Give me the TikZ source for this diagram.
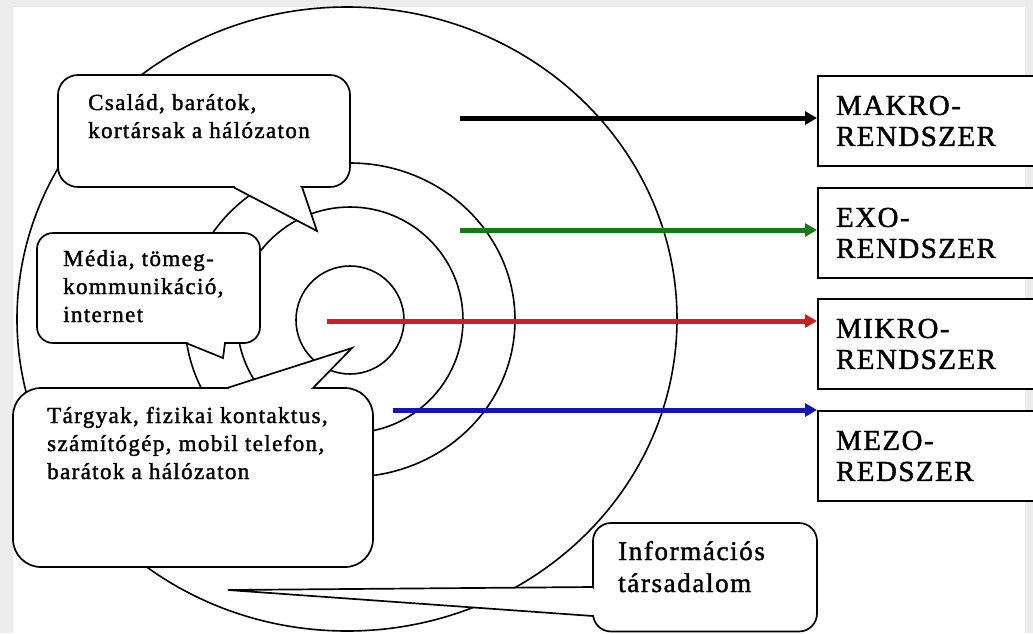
\documentclass[tikz,border=0pt]{standalone}
\usepackage{fontspec}
\setmainfont{Liberation Serif}
\newfontfamily\callfont[LetterSpace=6,FakeBold=1.5]{Liberation Serif}
\newfontfamily\sysfont[LetterSpace=5,FakeBold=1.5]{Liberation Serif}
\usetikzlibrary{arrows.meta}
\definecolor{agreen}{RGB}{25,120,25}
\definecolor{ared}{RGB}{205,30,35}
\definecolor{ablue}{RGB}{20,20,185}
\definecolor{bggray}{RGB}{236,236,236}
\begin{document}
\begin{tikzpicture}[x=1pt,y=-1pt,
  ring/.style={line width=1.6pt},
  callout/.style={draw, line width=1.7pt, fill=white},
  ptr/.style={line width=1.7pt, line join=miter},
  calltext/.style={anchor=base west, inner sep=0pt, align=left,
    font=\callfont\fontsize{23}{28}\selectfont},
  infotext/.style={anchor=base west, inner sep=0pt, align=left,
    font=\callfont\fontsize{27}{32}\selectfont},
  sysbox/.style={draw, line width=2pt, fill=white, anchor=north west,
    minimum height=90pt, text width=195pt, inner xsep=18pt, align=left,
    font=\sysfont\fontsize{29}{31}\selectfont},
  conn/.style={line width=5pt, -{Triangle[length=12pt,width=13pt]}}]

\useasboundingbox (0,0) rectangle (1033,633);
\fill[bggray] (0,0) rectangle (1033,633);
\fill[white] (13,7) rectangle (1025,633);

% rings
\draw[ring] (347,319) ellipse [x radius=330pt, y radius=312pt];
\draw[ring] (350,320) ellipse [x radius=165pt, y radius=157pt];
\draw[ring] (350,320) circle [radius=113pt];
\draw[ring] (350,320) circle [radius=54pt];

% system boxes
\node[sysbox] (makro) at (817,75)  {MAKRO-\\RENDSZER};
\node[sysbox] (exo)   at (817,187) {EXO-\\RENDSZER};
\node[sysbox] (mikro) at (817,298) {MIKRO-\\RENDSZER};
\node[sysbox] (mezo)  at (817,410) {MEZO-\\REDSZER};

% arrows
\coordinate (s1) at (460,118);
\coordinate (s2) at (460,230);
\coordinate (s3) at (327,321);
\coordinate (s4) at (393,410);
\draw[conn] (s1) -- (s1 -| makro.west);
\draw[conn, agreen] (s2) -- (s2 -| exo.west);
\draw[conn, ared] (s3) -- (s3 -| mikro.west);
\draw[conn, ablue] (s4) -- (s4 -| mezo.west);

% callout: family
\draw[callout, rounded corners=20pt] (58,75) rectangle (350,187);
\fill[white] (233,187) -- (317,231) -- (302,187) -- cycle;
\fill[white] (235,185.5) rectangle (300,188.5);
\draw[ptr] (233,187) -- (317,231) -- (302,187);
\node[calltext] (fam) at (88,138) {Család, barátok,\\kortársak a hálózaton};

% callout: media
\draw[callout, rounded corners=16pt] (37,233) rectangle (260,343);
\fill[white] (186,343) -- (223,358) -- (225,343) -- cycle;
\fill[white] (188,341.5) rectangle (223.5,344.5);
\draw[ptr] (186,343) -- (223,358) -- (225,343);
\node[calltext] (med) at (63,322) {Média, tömeg-\\kommunikáció,\\internet};

% callout: objects
\draw[callout, rounded corners=28pt] (13,388) rectangle (373,567);
\fill[white] (227,388) -- (352,348) -- (313,388) -- cycle;
\fill[white] (229,386.5) rectangle (311,389.5);
\draw[ptr] (227,388) -- (352,348) -- (313,388);
\node[calltext] (obj) at (47,479) {Tárgyak, fizikai kontaktus,\\számítógép, mobil telefon,\\barátok a hálózaton};

% callout: information society
\draw[callout, rounded corners=18pt] (593,523) rectangle (817,631.5);
\fill[white] (593,587) -- (228,590) -- (593,616) -- cycle;
\fill[white] (591.5,588.5) rectangle (594.5,614.5);
\draw[ptr] (593,587) -- (228,590) -- (593,616);
\node[infotext] (info) at (618,592) {Információs\\társadalom};
\end{tikzpicture}
\end{document}
